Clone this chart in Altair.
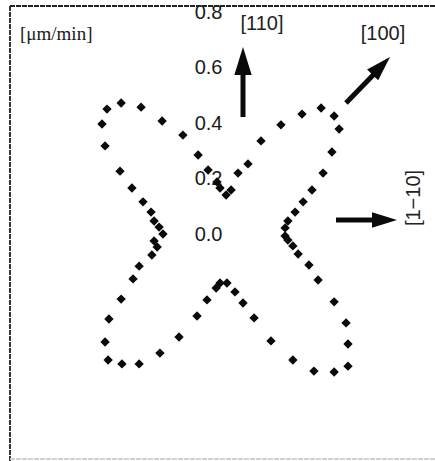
import altair as alt
import pandas as pd

# Etch-rate components in μm/min: x along [1-10], y along [110]
rate_x = [0.004, 0.022, 0.047, 0.083, 0.130, 0.202, 0.278, 0.347, 0.394, 0.412,
          0.386, 0.354, 0.314, 0.282, 0.253, 0.227, 0.217, 0.217, 0.227, 0.245,
          0.264, 0.303, 0.336, 0.394, 0.437, 0.444, 0.444, 0.394, 0.321, 0.245,
          0.166, 0.105, 0.065, 0.036, 0.007, -0.018, -0.032, -0.065, -0.101, -0.166,
          -0.235, -0.310, -0.372, -0.422, -0.433, -0.419, -0.375, -0.332, -0.310, -0.264,
          -0.245, -0.256, -0.224, -0.238, -0.256, -0.267, -0.296, -0.336, -0.379, -0.433,
          -0.444, -0.426, -0.375, -0.303, -0.227, -0.152, -0.097, -0.061, -0.029, -0.018]
rate_y = [0.141, 0.159, 0.220, 0.253, 0.336, 0.394, 0.433, 0.455, 0.426, 0.379,
          0.296, 0.220, 0.159, 0.116, 0.079, 0.047, 0.022, -0.007, -0.022, -0.043,
          -0.072, -0.112, -0.166, -0.245, -0.321, -0.397, -0.477, -0.498, -0.495, -0.455,
          -0.386, -0.303, -0.249, -0.209, -0.177, -0.177, -0.195, -0.238, -0.296, -0.372,
          -0.430, -0.469, -0.469, -0.455, -0.390, -0.307, -0.235, -0.162, -0.116, -0.076,
          -0.047, -0.025, 0.000, 0.025, 0.047, 0.079, 0.116, 0.166, 0.227, 0.318,
          0.397, 0.451, 0.473, 0.458, 0.408, 0.357, 0.285, 0.231, 0.188, 0.166]

tick_values = [0.0, 0.2, 0.4, 0.6, 0.8]

unit_label = "[μm/min]"
direction_labels = ["[110]", "[100]", "[1−10]"]

W, H = 435, 461
x_scale = alt.Scale(domain=[-0.8123, 0.7581], nice=False, zero=False)
y_scale = alt.Scale(domain=[-0.8195, 0.8448], nice=False, zero=False)

rates = pd.DataFrame({"vx": rate_x, "vy": rate_y})

points = alt.Chart(rates).mark_point(
    shape="diamond", filled=True, size=88, color="#0a0a0a", opacity=1
).encode(
    x=alt.X("vx:Q", scale=x_scale, axis=None),
    y=alt.Y(
        "vy:Q", scale=y_scale,
        axis=alt.Axis(
            values=tick_values, format=".1f", orient="left", offset=-225,
            domain=False, ticks=False, grid=False, title=None,
            labelFontSize=20, labelFont="Liberation Sans", labelColor="#1a1a1a",
            labelPadding=3, labelFlush=False, labelOverlap=False,
        ),
    ),
)

# Frame lines (top, left, faint bottom)
frame = pd.DataFrame({
    "x": [10, 10, 10], "x2": [435, 10, 435],
    "y": [6, 6, 459], "y2": [6, 461, 459],
    "c": ["#222", "#222", "#d0d0d0"],
})
frame_layer = alt.Chart(frame).mark_rule(strokeWidth=1.8, strokeDash=[5, 1]).encode(
    x=alt.X("x:Q", scale=None), x2="x2:Q",
    y=alt.Y("y:Q", scale=None), y2="y2:Q",
    color=alt.Color("c:N", scale=None),
)

# Crystal-direction arrows: shafts and heads
shafts = pd.DataFrame({
    "x": [243, 346, 336], "y": [117, 103, 220],
    "x2": [243, 380, 380], "y2": [70, 68, 220],
})
shaft_layer = alt.Chart(shafts).mark_rule(strokeWidth=5, color="#0a0a0a", strokeCap="butt").encode(
    x=alt.X("x:Q", scale=None), x2="x2:Q",
    y=alt.Y("y:Q", scale=None), y2="y2:Q",
)
heads = pd.DataFrame({
    "x": [243, 390, 397], "y": [47, 57, 220],
    "angle": [0, 44, 90], "size": [3136, 2500, 2500],
})
head_layer = alt.Chart(heads).mark_point(
    shape="M0,0 L0.31,1 L-0.31,1 Z", filled=True, color="#0a0a0a", opacity=1
).encode(
    x=alt.X("x:Q", scale=None), y=alt.Y("y:Q", scale=None),
    angle=alt.Angle("angle:Q", scale=None),
    size=alt.Size("size:Q", scale=None),
)

labels = pd.DataFrame({
    "text": direction_labels,
    "x": [262, 383, 414], "y": [24, 34, 198], "angle": [0, 0, 270],
})
label_layer = alt.Chart(labels).mark_text(
    font="Liberation Sans", fontSize=20, color="#222", align="center", baseline="middle"
).encode(
    x=alt.X("x:Q", scale=None), y=alt.Y("y:Q", scale=None),
    text="text:N", angle=alt.Angle("angle:Q", scale=None),
)

unit_layer = alt.Chart(pd.DataFrame({"text": [unit_label]})).mark_text(
    font="Liberation Serif", fontSize=19, color="#1a1a1a", align="left", baseline="middle"
).encode(x=alt.value(20), y=alt.value(34), text="text:N")

chart = alt.layer(
    frame_layer, points, shaft_layer, head_layer, label_layer, unit_layer
).properties(
    width=W, height=H, padding=0,
    autosize=alt.AutoSizeParams(type="none"),
    background="white",
).configure_view(stroke=None)

chart.save("out.html", embed_options={"renderer": "svg", "actions": False})
